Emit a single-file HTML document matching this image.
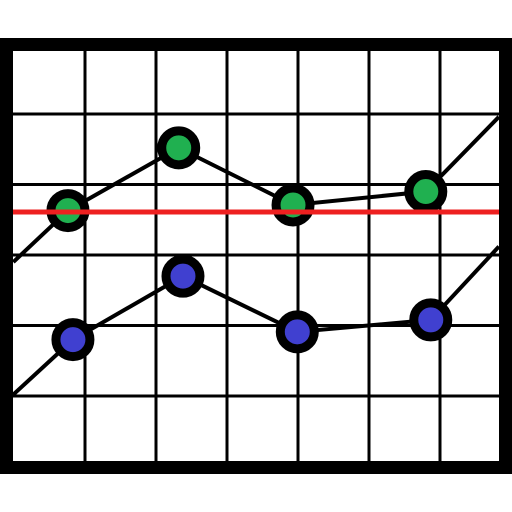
<!DOCTYPE html>
<html><head><meta charset="utf-8"><style>
html,body{margin:0;padding:0;background:#fff;width:512px;height:512px;overflow:hidden}
svg{display:block}
</style></head><body>
<svg id="chart" width="512" height="512" viewBox="0 0 512 512" xmlns="http://www.w3.org/2000/svg">
<defs><clipPath id="plotclip"><rect x="13" y="51" width="486" height="410"/></clipPath></defs>
<rect x="0" y="38" width="512" height="434" fill="#fff"/>
<g id="grid"></g>
<g id="series" clip-path="url(#plotclip)"></g>
<rect x="6.5" y="44.5" width="499" height="423" fill="none" stroke="#000" stroke-width="13"/>
</svg>
<script>
const gridX = [1, 2, 3, 4, 5, 6];
const gridY = [1, 2, 3, 4, 5];
const greenX = [-0.01, 0.76, 2.32, 3.93, 5.80, 6.83];
const greenY = [2.90, 3.63, 4.52, 3.71, 3.90, 4.96];
const blueX = [-0.01, 0.83, 2.38, 3.99, 5.87, 6.83];
const blueY = [1.02, 1.80, 2.70, 1.91, 2.08, 3.12];
const refValue = 3.61;

const NS = 'http://www.w3.org/2000/svg';
const xs = v => 14 + v * 71;
const ys = v => 466.5 - v * 70.5;
function mk(tag, attrs, parent) {
  const e = document.createElementNS(NS, tag);
  for (const k in attrs) e.setAttribute(k, attrs[k]);
  parent.appendChild(e);
  return e;
}
const grid = document.getElementById('grid');
gridX.forEach(v => {
  const l = mk('line', {x1: xs(v), x2: xs(v), y1: 51, y2: 461, stroke: '#000', 'stroke-width': 3}, grid);
  
  
});
gridY.forEach(v => {
  const l = mk('line', {x1: 13, x2: 499, y1: ys(v), y2: ys(v), stroke: '#000', 'stroke-width': 3}, grid);
  
  
});
const layer = document.getElementById('series');
function series(xArr, yArr, color, name) {
  const pts = xArr.map((x, i) => xs(x) + ',' + ys(yArr[i])).join(' ');
  const pl = mk('polyline', {points: pts, fill: 'none', stroke: '#000', 'stroke-width': 4}, layer);
  
  
  for (let i = 1; i < xArr.length - 1; i++) {
    const c = mk('circle', {cx: xs(xArr[i]), cy: ys(yArr[i]), r: 17, fill: color, stroke: '#000', 'stroke-width': 9}, layer);
    
    
  }
}
series(blueX, blueY, '#4040d0', 'blue-series');
series(greenX, greenY, '#20b050', 'green-series');
const ref = mk('line', {x1: 13, x2: 499, y1: ys(refValue), y2: ys(refValue), stroke: '#ee2020', 'stroke-width': 5}, layer);


</script>
</body></html>
